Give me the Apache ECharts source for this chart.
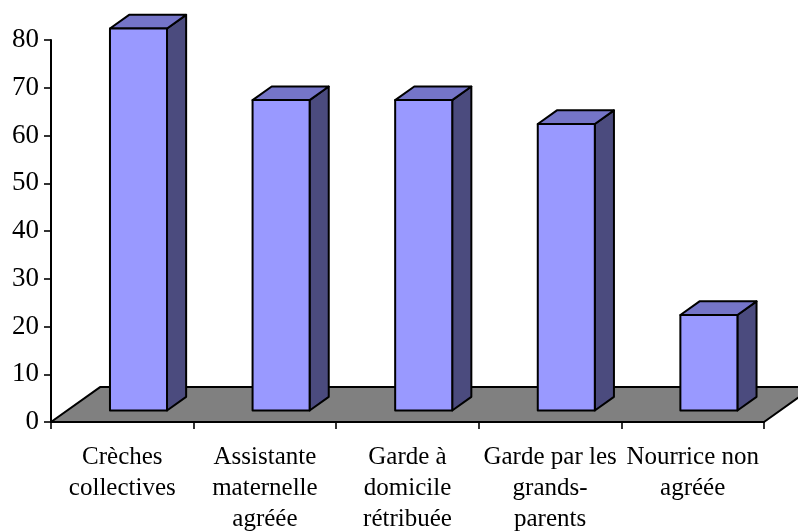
<!DOCTYPE html>
<html>
<head>
<meta charset="utf-8">
<script src="https://cdn.jsdelivr.net/npm/echarts@6/dist/echarts.min.js"></script>
<style>
  html, body { margin: 0; padding: 0; background: #ffffff; }
  #chart { width: 798px; height: 531px; }
</style>
</head>
<body>
<div id="chart"></div>
<script>
// Modes de garde : part des réponses par type d'accueil
const categories = [
  'Crèches\ncollectives',
  'Assistante\nmaternelle\nagréée',
  'Garde à\ndomicile\nrétribuée',
  'Garde par les\ngrands-\nparents',
  'Nourrice non\nagréée'
];
const values = [80, 65, 65, 60, 20];
const yMin = 0;
const yMax = 80;
const yStep = 10;

// Oblique projection of the depth axis, in fractions of one category band
const DEPTH_X = 0.344;
const DEPTH_Y = 0.245;
// Where each column sits along the depth, and its width
const BAR_FRONT = 0.33;
const BAR_BACK = 0.72;
const BAR_WIDTH = 0.4;

const FONT = '"Liberation Serif", "Times New Roman", serif';
const COLORS = { front: '#9999ff', top: '#7575c8', side: '#4b4b7e', floor: '#808080', edge: '#000000' };
const EDGE_WIDTH = 2;

// Grey floor plane under the columns
function renderFloor(params, api) {
  const band = api.size([1, 0])[0];
  const first = api.coord([0, yMin]);
  const last = api.coord([categories.length - 1, yMin]);
  const xl = first[0] - band / 2;
  const xr = last[0] + band / 2;
  const y = first[1];
  const dx = DEPTH_X * band;
  const dy = DEPTH_Y * band;
  return {
    type: 'polygon',
    shape: { points: [[xl, y], [xr, y], [xr + dx, y - dy], [xl + dx, y - dy]] },
    style: { fill: COLORS.floor, stroke: COLORS.edge, lineWidth: EDGE_WIDTH, lineJoin: 'round' }
  };
}

// One shaded 3D column per category
function renderColumn(params, api) {
  const i = api.value(0);
  const v = api.value(1);
  const band = api.size([1, 0])[0];
  const base = api.coord([i, yMin]);
  const top = api.coord([i, v]);
  const dx = DEPTH_X * band;
  const dy = DEPTH_Y * band;
  const fx = BAR_FRONT * dx;
  const fy = BAR_FRONT * dy;
  const bx = (BAR_BACK - BAR_FRONT) * dx;
  const by = (BAR_BACK - BAR_FRONT) * dy;
  const w = BAR_WIDTH * band;
  const x0 = base[0] + fx - w / 2;
  const x1 = x0 + w;
  const yb = base[1] - fy;
  const yt = top[1] - fy;
  const edge = { stroke: COLORS.edge, lineWidth: EDGE_WIDTH, lineJoin: 'round' };
  return {
    type: 'group',
    children: [
      {
        type: 'polygon',
        shape: { points: [[x1, yt], [x1 + bx, yt - by], [x1 + bx, yb - by], [x1, yb]] },
        style: Object.assign({ fill: COLORS.side }, edge)
      },
      {
        type: 'polygon',
        shape: { points: [[x0, yt], [x1, yt], [x1 + bx, yt - by], [x0 + bx, yt - by]] },
        style: Object.assign({ fill: COLORS.top }, edge)
      },
      {
        type: 'rect',
        shape: { x: x0, y: yt, width: w, height: yb - yt },
        style: Object.assign({ fill: COLORS.front }, edge)
      }
    ]
  };
}

const chart = echarts.init(document.getElementById('chart'), null, { renderer: 'canvas' });
chart.setOption({
  animation: false,
  backgroundColor: '#ffffff',
  grid: { left: 51, right: 34, top: 40, bottom: 109, containLabel: false, outerBoundsMode: 'none' },
  xAxis: {
    type: 'category',
    data: categories,
    boundaryGap: true,
    axisLine: { show: true, lineStyle: { color: '#000', width: EDGE_WIDTH } },
    axisTick: { show: true, length: 7, lineStyle: { color: '#000', width: 1.6 } },
    axisLabel: {
      interval: 0,
      margin: 20,
      color: '#000',
      fontFamily: FONT,
      fontSize: 25,
      lineHeight: 31
    },
    splitLine: { show: false }
  },
  yAxis: {
    type: 'value',
    min: yMin,
    max: yMax,
    interval: yStep,
    axisLine: { show: true, lineStyle: { color: '#000', width: EDGE_WIDTH } },
    axisTick: { show: true, length: 7, lineStyle: { color: '#000', width: 1.6 } },
    axisLabel: {
      margin: 12,
      color: '#000',
      fontFamily: FONT,
      fontSize: 27
    },
    splitLine: { show: false }
  },
  series: [
    {
      type: 'custom',
      name: 'plancher',
      renderItem: renderFloor,
      data: [[0, yMin]],
      z: 1,
      silent: true
    },
    {
      type: 'custom',
      name: 'réponses',
      renderItem: renderColumn,
      encode: { x: 0, y: 1 },
      data: values.map((v, i) => [i, v]),
      z: 3
    }
  ]
});
</script>
</body>
</html>
